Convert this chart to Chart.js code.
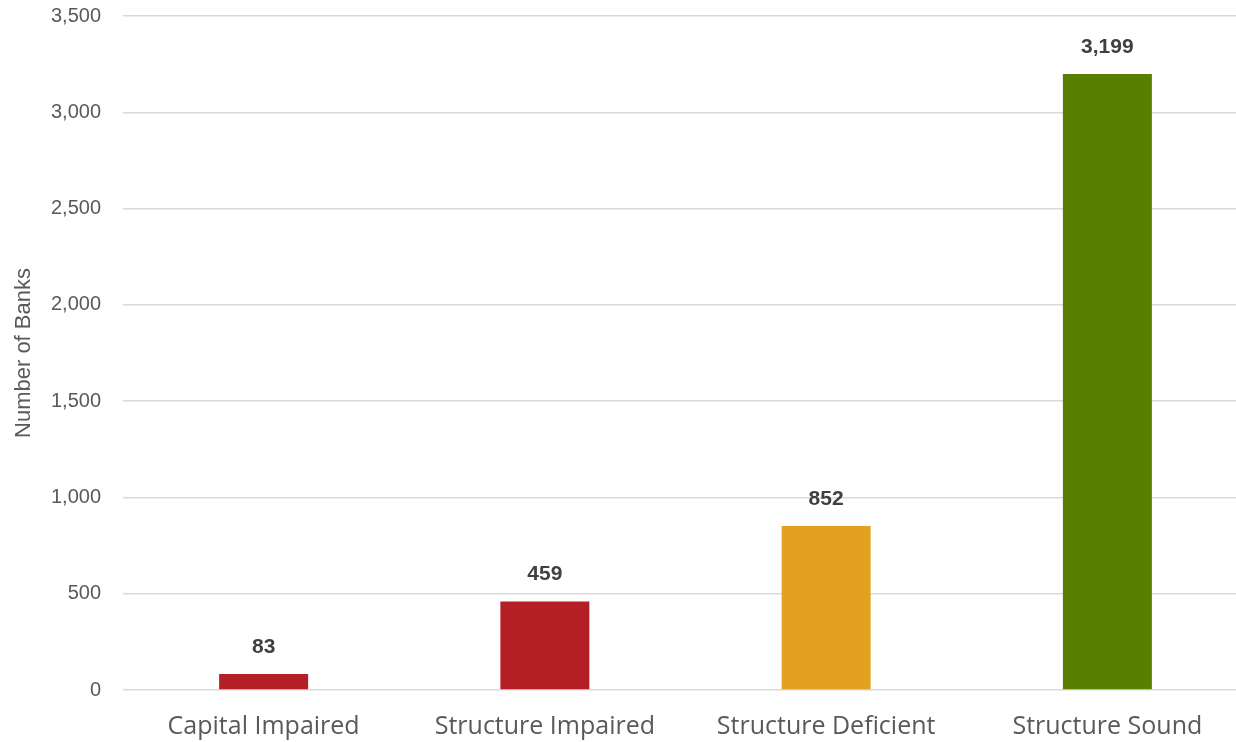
<!DOCTYPE html>
<html>
<head>
<meta charset="utf-8">
<script src="https://cdn.jsdelivr.net/npm/chart.js@4"></script>
<style>
  html, body { margin: 0; padding: 0; background: #ffffff; overflow: hidden; }
  #wrap { width: 1250px; height: 742px; position: relative; }
</style>
</head>
<body>
<div id="wrap"><canvas id="c"></canvas></div>
<script>
// Bank condition categories and counts
const categories = ['Capital Impaired', 'Structure Impaired', 'Structure Deficient', 'Structure Sound'];
const bankCounts = [83, 459, 852, 3199];
const barColors = ['#B41F25', '#B41F25', '#E2A11E', '#5A7E00'];
const yTicks = [0, 500, 1000, 1500, 2000, 2500, 3000, 3500];
const yTitle = 'Number of Banks';

const fmt = new Intl.NumberFormat('en-US');

// Draws the value above each bar, positioned from the bar element itself
const valueLabels = {
  id: 'valueLabels',
  afterDatasetsDraw(chart) {
    const ctx = chart.ctx;
    const meta = chart.getDatasetMeta(0);
    ctx.save();
    ctx.font = 'bold 21px "Liberation Sans", Arial, sans-serif';
    ctx.fillStyle = '#404040';
    ctx.textAlign = 'center';
    ctx.textBaseline = 'middle';
    meta.data.forEach((bar, i) => {
      ctx.fillText(fmt.format(bankCounts[i]), bar.x, bar.y - 27);
    });
    ctx.restore();
  }
};

new Chart(document.getElementById('c'), {
  type: 'bar',
  data: {
    labels: categories,
    datasets: [{
      data: bankCounts,
      backgroundColor: barColors,
      borderWidth: 0,
      categoryPercentage: 1,
      barPercentage: 0.3164
    }]
  },
  options: {
    responsive: true,
    maintainAspectRatio: false,
    animation: false,
    layout: { padding: { top: 16, left: 0, right: 2, bottom: 0 } },
    plugins: {
      legend: { display: false },
      tooltip: { enabled: false }
    },
    scales: {
      x: {
        grid: { display: false },
        border: { display: false },
        ticks: {
          color: '#595959',
          font: { family: '"Open Sans", sans-serif', size: 25 },
          padding: 14
        },
        afterFit(scale) {
          scale.height = 52;
          scale.paddingLeft = 0;
          scale.paddingRight = 0;
        }
      },
      y: {
        min: 0,
        max: 3500,
        afterBuildTicks(scale) { scale.ticks = yTicks.map(v => ({ value: v })); },
        grid: { color: '#D9D9D9', lineWidth: 1.5, drawTicks: false },
        border: { display: false },
        ticks: {
          color: '#595959',
          font: { family: '"Liberation Sans", Arial, sans-serif', size: 20 },
          padding: 22,
          callback: v => fmt.format(v)
        },
        title: {
          display: true,
          text: yTitle,
          color: '#595959',
          font: { family: '"Liberation Sans", Arial, sans-serif', size: 22 },
          padding: { top: 11, bottom: 0 }
        },
        afterFit(scale) {
          scale.width = 123;
          scale.paddingTop = 0;
          scale.paddingBottom = 0;
        }
      }
    }
  },
  plugins: [valueLabels]
});
</script>
</body>
</html>
